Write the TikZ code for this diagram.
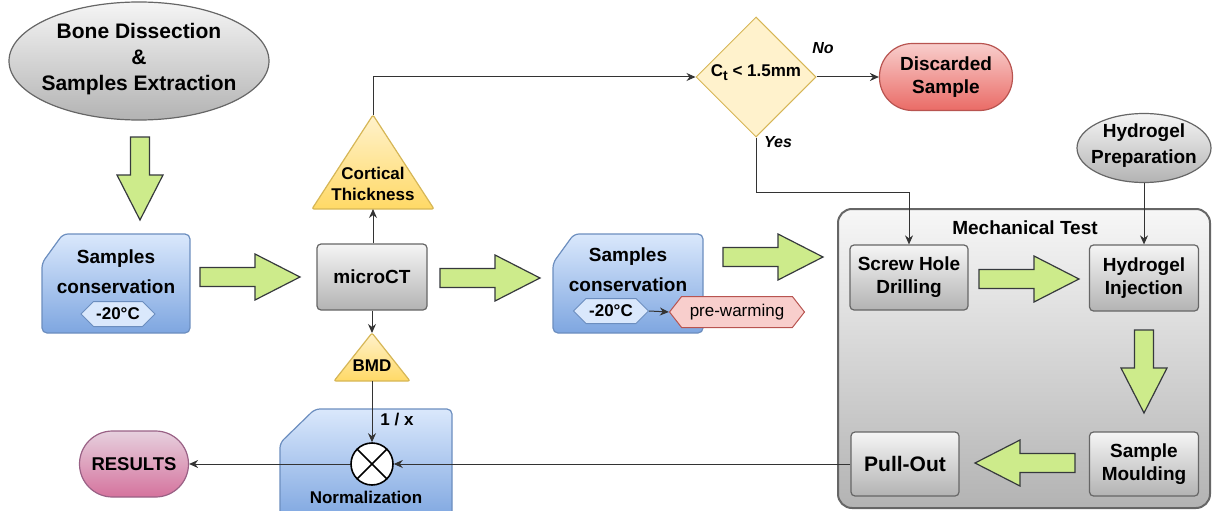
\documentclass[tikz,border=0pt]{standalone}
\usepackage{fontspec}
\setmainfont{Liberation Sans}
\usetikzlibrary{shapes.geometric, shapes.symbols, calc, arrows.meta}

\definecolor{grayline}{HTML}{666666}
\definecolor{graytop}{HTML}{F5F5F5}
\definecolor{graybot}{HTML}{B3B3B3}
\definecolor{bluetop}{HTML}{DAE8FC}
\definecolor{bluebot}{HTML}{7EA6E0}
\definecolor{blueline}{HTML}{6C8EBF}
\definecolor{yellowtop}{HTML}{FFF2CC}
\definecolor{yellowbot}{HTML}{FFD966}
\definecolor{yellowline}{HTML}{D6B656}
\definecolor{redtop}{HTML}{F8CECC}
\definecolor{redbot}{HTML}{EA6B66}
\definecolor{redline}{HTML}{B85450}
\definecolor{pinktop}{HTML}{E6D0DE}
\definecolor{pinkbot}{HTML}{D5739D}
\definecolor{pinkline}{HTML}{996185}
\definecolor{greenfill}{HTML}{CDEB8B}
\definecolor{greenline}{HTML}{36393D}
\definecolor{linegray}{HTML}{333333}

\tikzset{
  txt/.style={font=\fontsize{19}{23}\selectfont\bfseries, align=center, inner sep=0pt},
  smalltxt/.style={font=\fontsize{17}{20}\selectfont\bfseries, align=center, inner sep=0pt},
  graybox/.style={draw=grayline, top color=graytop, bottom color=graybot, line width=1.2pt, rounded corners=4pt, inner sep=0pt},
  grayellipse/.style={ellipse, draw=grayline, top color=graytop, bottom color=graybot, line width=1.2pt, inner sep=0pt},
  bluebox/.style={draw=blueline, top color=bluetop, bottom color=bluebot, line width=1.2pt, rounded corners=5pt},
  yellowtri/.style={draw=yellowline, top color=yellowtop, bottom color=yellowbot, line width=1.2pt, rounded corners=2pt},
  decision/.style={diamond, draw=yellowline, fill=yellowtop, line width=1pt, minimum width=120, minimum height=120, inner sep=0pt},
  terminal/.style={draw=#1line, top color=#1top, bottom color=#1bot, line width=1.2pt, rounded corners=33pt, inner sep=0pt},
  hexa/.style={signal, signal to=east and west, draw=#1line, fill=#1top, line width=1pt, inner sep=0pt},
  greenarrow/.style={draw=greenline, fill=greenfill, line width=1.2pt},
  conn/.style={draw=linegray, line width=1pt, -{Stealth[length=9pt,width=8pt]}},
  pics/fatarrow/.style={code={
    \draw[greenarrow] (0,-9.5) -- (#1-45,-9.5) -- (#1-45,-23) -- (#1,0) -- (#1-45,23) -- (#1-45,9.5) -- (0,9.5) -- cycle;
  }}
}

\begin{document}
\begin{tikzpicture}[x=1pt,y=-1pt]
  \useasboundingbox (0,0) rectangle (1213,511);

  % Start
  \node[grayellipse, minimum width=260, minimum height=118] (bone) at (139,61) {};
  \node[txt, font=\fontsize{21}{26}\selectfont\bfseries] (bone txt) at (139,59) {Bone Dissection\\\&\\Samples Extraction};
  \pic[rotate=-90] at (140,137) {fatarrow=83};

  % First conservation
  \draw[bluebox] (42,263) -- (63,234) -- (190,234) -- (190,333) -- (42,333) -- cycle;
  \node[txt, font=\fontsize{19}{30}\selectfont\bfseries] (cons1 txt) at (116,272) {Samples\\conservation};
  \node[hexa=blue, minimum width=74, minimum height=25, signal pointer angle=90] (temp1) at (118,314) {};
  \node[smalltxt] (temp1 txt) at (temp1) {-20°C};
  \pic at (200,277) {fatarrow=100};

  % microCT and its outputs
  \node[graybox, minimum width=110, minimum height=66] (micro) at (372,277) {};
  \node[txt] (micro txt) at (micro) {microCT};

  \draw[yellowtri] (373,115) -- (434,209) -- (312,209) -- cycle;
  \coordinate (ct apex) at (373,115);
  \coordinate (ct base) at (373,209);
  \node[smalltxt, font=\fontsize{17}{20.5}\selectfont\bfseries] (ct txt) at (373,184) {Cortical\\Thickness};

  \draw[yellowtri] (372,333) -- (410,381) -- (334,381) -- cycle;
  \coordinate (bmd apex) at (372,333);
  \coordinate (bmd base) at (372,381);
  \node[smalltxt] (bmd txt) at (372,366) {BMD};

  \draw[conn] ($(micro.north)+(1,0)$) -- (ct base);
  \draw[conn] (micro.south) -- (bmd apex);

  % Thickness check
  \node[decision] (check) at (756,77) {};
  \node[smalltxt] (check txt) at (756,73) {C\raisebox{-4pt}{\fontsize{14}{14}\selectfont t} < 1.5mm};
  \node[terminal=red, minimum width=133, minimum height=67] (discard) at (946,77) {};
  \node[txt] (discard txt) at (discard) {Discarded\\Sample};
  \draw[conn] (ct apex) |- (check.west);
  \draw[conn] (check.east) -- (discard.west);
  \node[smalltxt, font=\fontsize{16}{16}\selectfont\bfseries\itshape] (no) at (823,48) {No};
  \node[smalltxt, font=\fontsize{16}{16}\selectfont\bfseries\itshape] (yes) at (778,142) {Yes};

  % Second conservation
  \pic at (440,278) {fatarrow=100};
  \draw[bluebox] (553,263) -- (574,234) -- (703,234) -- (703,333) -- (553,333) -- cycle;
  \node[txt, font=\fontsize{19}{30}\selectfont\bfseries] (cons2 txt) at (628,270) {Samples\\conservation};
  \node[hexa=blue, minimum width=75, minimum height=25, signal pointer angle=90] (temp2) at (611,311) {};
  \node[smalltxt] (temp2 txt) at (temp2) {-20°C};
  \node[hexa=red, minimum width=135, minimum height=31, signal pointer angle=104] (warm) at (737,312) {};
  \node[font=\fontsize{17}{20}\selectfont, inner sep=0pt] (warm txt) at (warm) {pre-warming};
  \draw[conn] (temp2.east) -- (warm.west);
  \pic at (723,257) {fatarrow=100};

  % Mechanical test
  \node[graybox, line width=2pt, rounded corners=14pt, top color=graytop!80!white, minimum width=372, minimum height=299] (mech) at (1024,358.5) {};
  \node[txt] (mech txt) at (1025,228) {Mechanical Test};
  \node[grayellipse, minimum width=134, minimum height=69] (prep) at (1144,148) {};
  \node[txt, font=\fontsize{19}{26}\selectfont\bfseries] (prep txt) at (1144,146) {Hydrogel\\Preparation};

  \node[graybox, minimum width=118, minimum height=65] (screw) at (909,277.5) {};
  \node[txt] (screw txt) at (screw) {Screw Hole\\Drilling};
  \node[graybox, minimum width=109, minimum height=66] (inject) at (1144,278) {};
  \node[txt] (inject txt) at (inject) {Hydrogel\\Injection};
  \node[graybox, minimum width=109, minimum height=64] (mould) at (1144,464) {};
  \node[txt] (mould txt) at (mould) {Sample\\Moulding};
  \node[graybox, minimum width=108, minimum height=64] (pull) at (905,464) {};
  \node[txt, font=\fontsize{21}{25}\selectfont\bfseries] (pull txt) at (pull) {Pull-Out};

  \pic at (979,279) {fatarrow=100};
  \pic[rotate=-90] at (1144,330) {fatarrow=83};
  \pic[rotate=180] at (1075,463) {fatarrow=100};

  \coordinate (yes turn) at (909,192);
  \draw[conn] (check.south) |- (yes turn) -- (screw.north);
  \draw[conn] (prep.south) -- (inject.north);

  % Normalization and results
  \draw[bluebox] (280,443) -- (315,409) -- (452,409) -- (452,520) -- (280,520) -- cycle;
  \node[smalltxt] (norm txt) at (366,497) {Normalization};
  \node[terminal=pink, minimum width=109, minimum height=66] (results) at (134,464) {};
  \node[txt, font=\fontsize{18.5}{22}\selectfont\bfseries] (results txt) at (results) {RESULTS};
  \node[circle, draw=black, fill=white, line width=1.6pt, minimum size=42, inner sep=0pt,
        path picture={\draw[line width=1.6pt] (path picture bounding box.north west) -- (path picture bounding box.south east)
                       (path picture bounding box.north east) -- (path picture bounding box.south west);}] (mult) at (372,464) {};
  \draw[conn] (bmd base) -- (mult.north);
  \node[smalltxt] (inv) at (397,420) {1 / x};
  \draw[conn] (pull.west) -- (mult.east);
  \draw[conn] (mult.west) -- (results.east);
\end{tikzpicture}
\end{document}
